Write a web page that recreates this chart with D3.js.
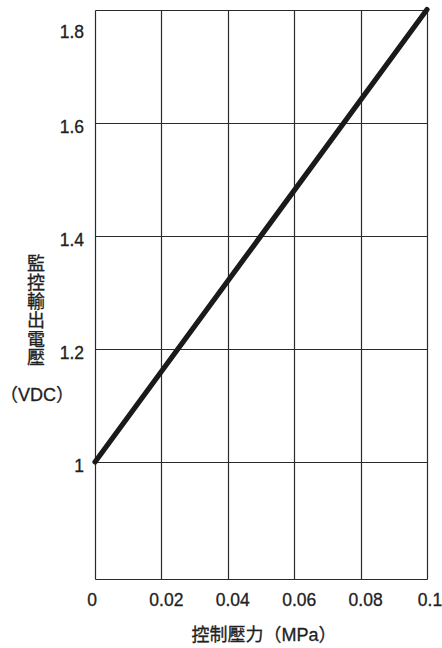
<!DOCTYPE html>
<html>
<head>
<meta charset="utf-8">
<script src="https://cdn.jsdelivr.net/npm/d3@7"></script>
<style>
  html, body { margin: 0; padding: 0; background: #fff; }
  svg { display: block; }
  text { font-family: "Liberation Sans", Arial, "Noto Sans CJK TC", sans-serif; fill: #222; stroke: #222; stroke-width: 0.3px; }
  .cjk { font-family: "Liberation Sans", "Noto Sans CJK TC", sans-serif; }
</style>
</head>
<body>
<svg id="chart" width="442" height="648"></svg>
<script>
// Control pressure (MPa) vs. monitoring output voltage (VDC)
const pressure = [0, 0.1];
const voltage = [1.0, 1.8];

const xTicks = [0, 0.02, 0.04, 0.06, 0.08, 0.1];
const xTickLabels = ["0", "0.02", "0.04", "0.06", "0.08", "0.1"];
const yTicks = [1, 1.2, 1.4, 1.6, 1.8];
const yTickLabels = ["1", "1.2", "1.4", "1.6", "1.8"];

const xTitle = "控制壓力（MPa）";
const yTitleChars = ["監", "控", "輸", "出", "電", "壓"];
const yUnit = "（VDC）";

const svg = d3.select("#chart");
const plotLeft = 95, plotRight = 427, plotTop = 9.5, plotBottom = 579;

const x = d3.scaleLinear().domain([0, 0.1]).range([plotLeft, plotRight]);
const y = d3.scaleLinear().domain([0.793, 1.8]).range([plotBottom, plotTop]);

const crisp = v => Math.round(v) + 0.5;
const gridColor = "#2a2a2a";

// grid: vertical lines at each pressure tick
svg.append("g").selectAll("line").data(xTicks).join("line")
  .attr("x1", d => crisp(x(d))).attr("x2", d => crisp(x(d)))
  .attr("y1", crisp(y(1.8))).attr("y2", crisp(y(0.793)))
  .attr("stroke", gridColor).attr("stroke-width", 1.2);

// grid: horizontal lines at each voltage tick plus the bottom edge
svg.append("g").selectAll("line").data([0.793, ...yTicks]).join("line")
  .attr("x1", crisp(x(0))).attr("x2", crisp(x(0.1)))
  .attr("y1", d => crisp(y(d))).attr("y2", d => crisp(y(d)))
  .attr("stroke", gridColor).attr("stroke-width", 1.2);

// characteristic line
const pts = pressure.map((p, i) => [p, voltage[i]]);
svg.append("path")
  .datum(pts)
  .attr("d", d3.line().x(d => x(d[0])).y(d => y(d[1])))
  .attr("fill", "none")
  .attr("stroke", "#1a1a1a")
  .attr("stroke-width", 5.2)
  .attr("stroke-linecap", "round");

// y tick labels
svg.append("g").selectAll("text").data(yTicks).join("text")
  .attr("x", 84)
  .attr("y", d => Math.max(y(d) + 4, 32))
  .attr("dy", "0.35em")
  .attr("text-anchor", "end")
  .attr("font-size", 17.5)
  .text((d, i) => yTickLabels[i]);

// x tick labels
svg.append("g").selectAll("text").data(xTicks).join("text")
  .attr("x", d => d === 0 ? x(d) - 3 : x(d) + (d === 0.1 ? 3 : 5))
  .attr("y", 600)
  .attr("dy", "0.35em")
  .attr("text-anchor", "middle")
  .attr("font-size", 17.5)
  .text((d, i) => xTickLabels[i]);

// x axis title
svg.append("text")
  .attr("class", "cjk")
  .attr("x", 264).attr("y", 635)
  .attr("dy", "0.35em")
  .attr("text-anchor", "middle")
  .attr("font-size", 18)
  .text(xTitle);

// y axis title, stacked vertically
svg.append("g").selectAll("text").data(yTitleChars).join("text")
  .attr("class", "cjk")
  .attr("x", 36)
  .attr("y", (d, i) => 264 + i * 18.8)
  .attr("dy", "0.35em")
  .attr("text-anchor", "middle")
  .attr("font-size", 18)
  .text(d => d);

svg.append("text")
  .attr("class", "cjk")
  .attr("x", 0).attr("y", 395)
  .attr("dy", "0.35em")
  .attr("text-anchor", "start")
  .attr("font-size", 18)
  .text(yUnit);
</script>
</body>
</html>
